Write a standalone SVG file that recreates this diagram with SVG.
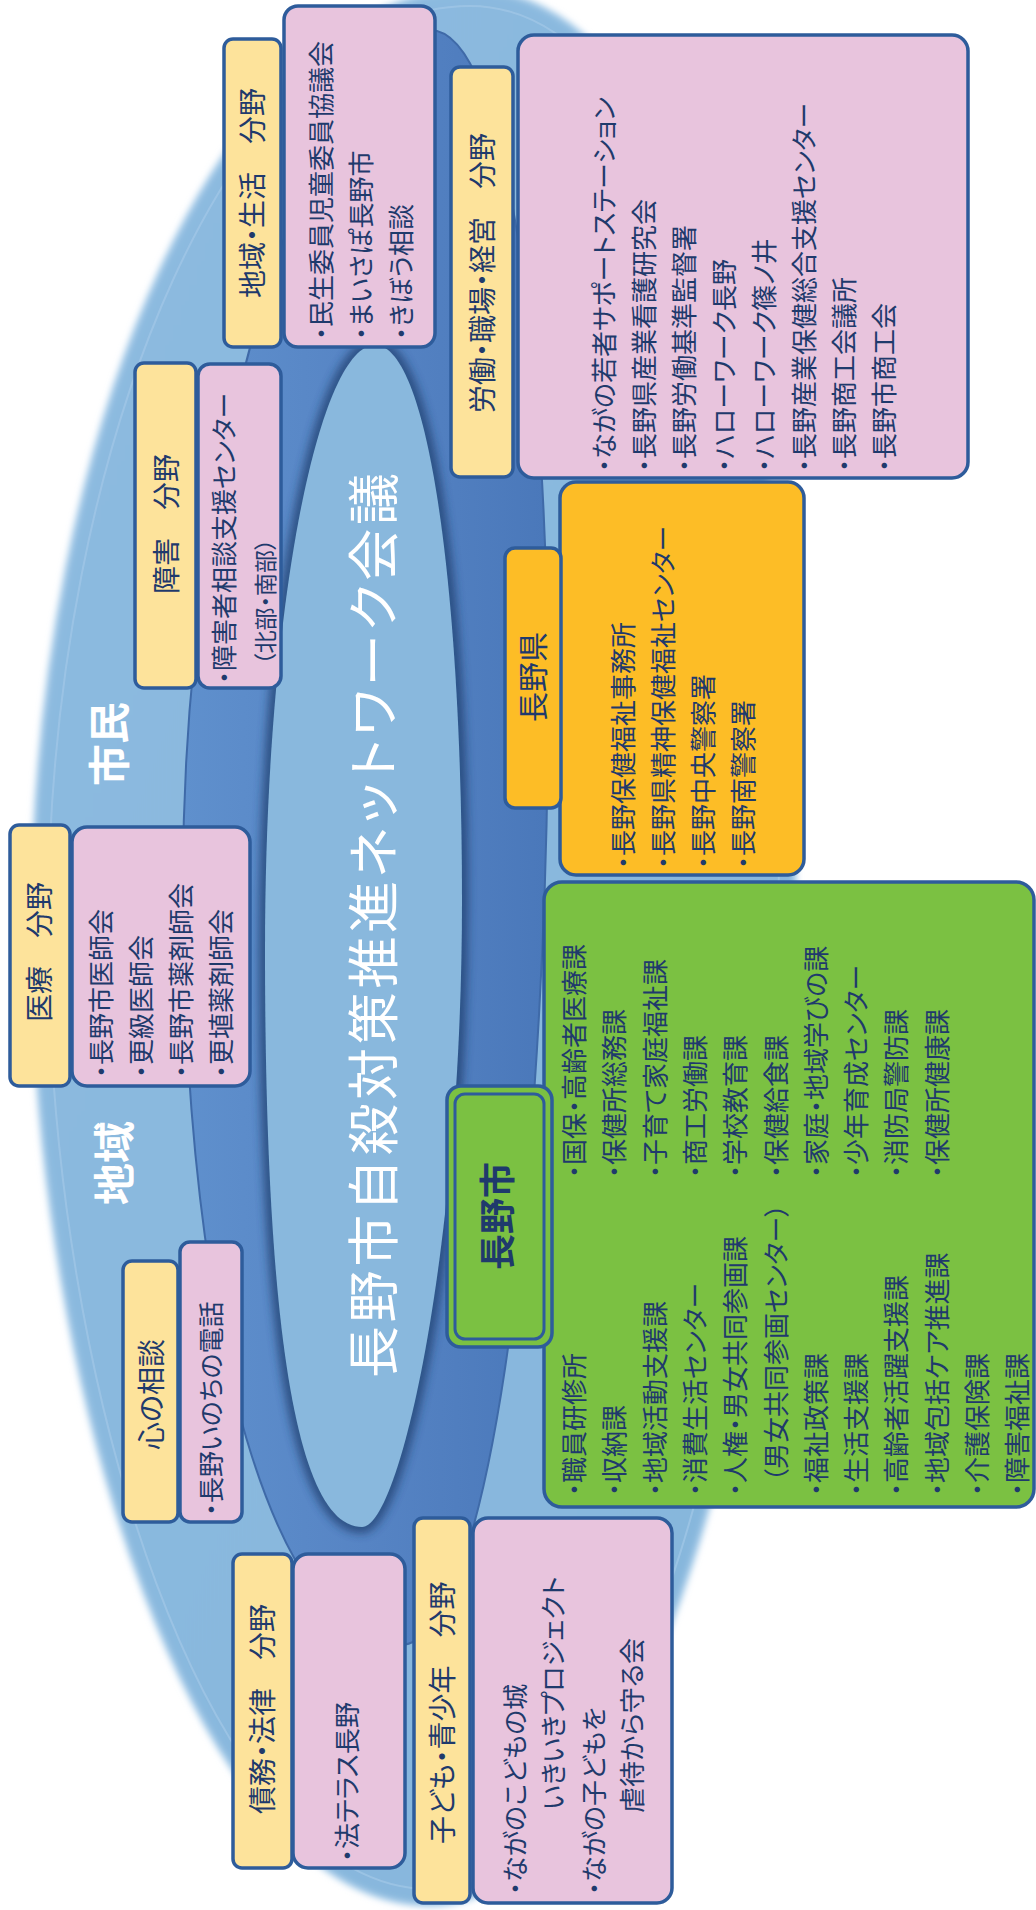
<svg xmlns="http://www.w3.org/2000/svg" width="1036" height="1910" viewBox="0 0 1036 1910">
<style>
text{font-family:"Liberation Sans","Noto Sans CJK JP",sans-serif;dominant-baseline:central;font-feature-settings:"palt";fill:#1f3a6c}
.b{font-size:26px}
.h{font-size:28px}
.s{font-size:23px}
.w{font-size:42px;fill:#fff;font-weight:bold}
.ti{font-size:52px;fill:#fff}
.lab{font-size:30px}
.labb{font-size:36px;font-weight:bold}
.yb{fill:#fde39b;stroke:#2e5c9b;stroke-width:3.5}
.pb{fill:#e8c4dd;stroke:#2e5c9b;stroke-width:3.5}
.ob{fill:#fdbd26;stroke:#2e5c9b;stroke-width:3.5}
.gb{fill:#7bc142;stroke:#2e5c9b;stroke-width:3.5}
</style>
<defs>
<filter id="soft" x="-5%" y="-5%" width="110%" height="110%"><feGaussianBlur stdDeviation="3"/></filter>
<filter id="sh" x="-20%" y="-10%" width="140%" height="120%"><feGaussianBlur stdDeviation="5"/></filter>
<linearGradient id="ringG" x1="0" y1="0" x2="1" y2="0">
<stop offset="0" stop-color="#5f90cd"/>
<stop offset="0.5" stop-color="#5684c4"/>
<stop offset="1" stop-color="#4a78ba"/>
</linearGradient>
<linearGradient id="outG" x1="0" y1="0" x2="1" y2="1">
<stop offset="0" stop-color="#8dbbe0"/>
<stop offset="1" stop-color="#86b6dc"/>
</linearGradient>
</defs>
<rect width="1036" height="1910" fill="#fff"/>
<g id="background">
<path d="M470,-10 C680,-10 795,400 795,850 C795,1350 640,1905 430,1905 C200,1905 32,1400 32,930 C32,420 230,-10 470,-10 Z" fill="url(#outG)" stroke="#a9cdea" stroke-width="4" filter="url(#soft)"/>
<path d="M470,6 C668,6 779,405 779,850 C779,1345 630,1889 430,1889 C210,1889 48,1395 48,930 C48,430 240,6 470,6 Z" fill="none" stroke="#a3c8e7" stroke-width="2" opacity="0.7"/>
<path d="M430,30 C510,30 548,380 548,700 C548,1100 500,1645 400,1645 C280,1645 183,1350 183,880 C183,420 330,30 430,30 Z" fill="url(#ringG)" stroke="#3f6aa8" stroke-width="2"/>
<path d="M375,345 C430,345 462,600 462,900 C462,1250 400,1527 362,1527 C300,1527 265,1350 265,950 C265,600 320,345 375,345 Z" fill="none" stroke="#1c3a69" stroke-width="12" opacity="0.75" filter="url(#sh)"/>
<path d="M375,345 C430,345 462,600 462,900 C462,1250 400,1527 362,1527 C300,1527 265,1350 265,950 C265,600 320,345 375,345 Z" fill="#89b8dd"/>
<text class="w" transform="translate(110 786) rotate(-90)">市民</text>
<text class="w" transform="translate(115 1205) rotate(-90)">地域</text>
<text class="ti" transform="translate(375 1378) rotate(-90)" textLength="905" lengthAdjust="spacing">長野市自殺対策推進ネットワーク会議</text>
</g>
<g id="node-chiiki-seikatsu">
<rect class="yb" x="224" y="39" width="57" height="308" rx="9"/>
<text class="h" transform="translate(253 298) rotate(-90)">地域・生活　分野</text>
</g>
<g id="node-chiiki-seikatsu-list">
<rect class="pb" x="284" y="6" width="151" height="341" rx="14"/>
<text class="b" transform="translate(322 340) rotate(-90)">・民生委員児童委員協議会</text>
<text class="b" transform="translate(362 340) rotate(-90)">・まいさぽ長野市</text>
<text class="b" transform="translate(402 340) rotate(-90)">・きぼう相談</text>
</g>
<g id="node-shogai">
<rect class="yb" x="135" y="363" width="61" height="325" rx="9"/>
<text class="h" transform="translate(167 594) rotate(-90)">障害　分野</text>
</g>
<g id="node-shogai-list">
<rect class="pb" x="198" y="364" width="83" height="324" rx="12"/>
<text class="b" transform="translate(225 684) rotate(-90)">・障害者相談支援センター</text>
<text class="b s" transform="translate(266 665) rotate(-90)">（北部・南部）</text>
</g>
<g id="node-rodo">
<rect class="yb" x="451" y="67" width="62" height="410" rx="9"/>
<text class="h" transform="translate(483 413) rotate(-90)">労働・職場・経営　分野</text>
</g>
<g id="node-rodo-list">
<rect class="pb" x="518" y="35" width="450" height="443" rx="16"/>
<text class="b" transform="translate(605 472) rotate(-90)">・ながの若者サポートステーション</text>
<text class="b" transform="translate(645 472) rotate(-90)">・長野県産業看護研究会</text>
<text class="b" transform="translate(685 472) rotate(-90)">・長野労働基準監督署</text>
<text class="b" transform="translate(725 472) rotate(-90)">・ハローワーク長野</text>
<text class="b" transform="translate(765 472) rotate(-90)">・ハローワーク篠ノ井</text>
<text class="b" transform="translate(805 472) rotate(-90)">・長野産業保健総合支援センター</text>
<text class="b" transform="translate(845 472) rotate(-90)">・長野商工会議所</text>
<text class="b" transform="translate(885 472) rotate(-90)">・長野市商工会</text>
</g>
<g id="node-nagano-ken-list">
<rect class="ob" x="560" y="482" width="244" height="393" rx="16"/>
<text class="b" transform="translate(624 869) rotate(-90)">・長野保健福祉事務所</text>
<text class="b" transform="translate(664 869) rotate(-90)">・長野県精神保健福祉センター</text>
<text class="b" transform="translate(704 869) rotate(-90)">・長野中央警察署</text>
<text class="b" transform="translate(744 869) rotate(-90)">・長野南警察署</text>
</g>
<g id="node-nagano-ken">
<rect class="ob" x="505" y="548" width="56" height="260" rx="10"/>
<text class="lab" transform="translate(533 722) rotate(-90)">長野県</text>
</g>
<g id="node-iryo">
<rect class="yb" x="10" y="825" width="60" height="261" rx="9"/>
<text class="h" transform="translate(40 1022) rotate(-90)">医療　分野</text>
</g>
<g id="node-iryo-list">
<rect class="pb" x="72" y="827" width="178" height="259" rx="15"/>
<text class="b" transform="translate(102 1078) rotate(-90)">・長野市医師会</text>
<text class="b" transform="translate(142 1078) rotate(-90)">・更級医師会</text>
<text class="b" transform="translate(182 1078) rotate(-90)">・長野市薬剤師会</text>
<text class="b" transform="translate(222 1078) rotate(-90)">・更埴薬剤師会</text>
</g>
<g id="node-nagano-shi-list">
<rect class="gb" x="544" y="882" width="490" height="625" rx="18"/>
<text class="b" transform="translate(575 1178) rotate(-90)">・国保・高齢者医療課</text>
<text class="b" transform="translate(615.3 1178) rotate(-90)">・保健所総務課</text>
<text class="b" transform="translate(655.6 1178) rotate(-90)">・子育て家庭福祉課</text>
<text class="b" transform="translate(695.9 1178) rotate(-90)">・商工労働課</text>
<text class="b" transform="translate(736.2 1178) rotate(-90)">・学校教育課</text>
<text class="b" transform="translate(776.5 1178) rotate(-90)">・保健給食課</text>
<text class="b" transform="translate(816.8 1178) rotate(-90)">・家庭・地域学びの課</text>
<text class="b" transform="translate(857.1 1178) rotate(-90)">・少年育成センター</text>
<text class="b" transform="translate(897.4 1178) rotate(-90)">・消防局警防課</text>
<text class="b" transform="translate(937.7 1178) rotate(-90)">・保健所健康課</text>
<text class="b" transform="translate(575 1496) rotate(-90)">・職員研修所</text>
<text class="b" transform="translate(615.3 1496) rotate(-90)">・収納課</text>
<text class="b" transform="translate(655.6 1496) rotate(-90)">・地域活動支援課</text>
<text class="b" transform="translate(695.9 1496) rotate(-90)">・消費生活センター</text>
<text class="b" transform="translate(736.2 1496) rotate(-90)">・人権・男女共同参画課</text>
<text class="b" transform="translate(776.5 1482) rotate(-90)">（男女共同参画センター）</text>
<text class="b" transform="translate(816.8 1496) rotate(-90)">・福祉政策課</text>
<text class="b" transform="translate(857.1 1496) rotate(-90)">・生活支援課</text>
<text class="b" transform="translate(897.4 1496) rotate(-90)">・高齢者活躍支援課</text>
<text class="b" transform="translate(937.7 1496) rotate(-90)">・地域包括ケア推進課</text>
<text class="b" transform="translate(978 1496) rotate(-90)">・介護保険課</text>
<text class="b" transform="translate(1018.3 1496) rotate(-90)">・障害福祉課</text>
</g>
<g id="node-nagano-shi">
<rect class="gb" x="447" y="1086" width="105" height="261" rx="14"/>
<rect x="455" y="1094" width="89" height="245" rx="10" fill="none" stroke="#2e5c9b" stroke-width="3"/>
<text class="labb" transform="translate(498 1270) rotate(-90)">長野市</text>
</g>
<g id="node-kokoro">
<rect class="yb" x="123" y="1261" width="55" height="261" rx="9"/>
<text class="h" transform="translate(152 1450) rotate(-90)">心の相談</text>
</g>
<g id="node-kokoro-list">
<rect class="pb" x="180" y="1242" width="62" height="280" rx="10"/>
<text class="b" transform="translate(212 1516) rotate(-90)">・長野いのちの電話</text>
</g>
<g id="node-saimu">
<rect class="yb" x="233" y="1554" width="59" height="314" rx="9"/>
<text class="h" transform="translate(263 1814) rotate(-90)">債務・法律　分野</text>
</g>
<g id="node-saimu-list">
<rect class="pb" x="293" y="1554" width="112" height="314" rx="15"/>
<text class="b" transform="translate(348 1862) rotate(-90)">・法テラス長野</text>
</g>
<g id="node-kodomo">
<rect class="yb" x="414" y="1518" width="56" height="385" rx="9"/>
<text class="h" transform="translate(443 1844) rotate(-90)">子ども・青少年　分野</text>
</g>
<g id="node-kodomo-list">
<rect class="pb" x="473" y="1518" width="199" height="385" rx="15"/>
<text class="b" transform="translate(516 1895) rotate(-90)">・ながのこどもの城</text>
<text class="b" transform="translate(554 1810) rotate(-90)">いきいきプロジェクト</text>
<text class="b" transform="translate(595 1895) rotate(-90)">・ながの子どもを</text>
<text class="b" transform="translate(633 1813) rotate(-90)">虐待から守る会</text>
</g>
</svg>
